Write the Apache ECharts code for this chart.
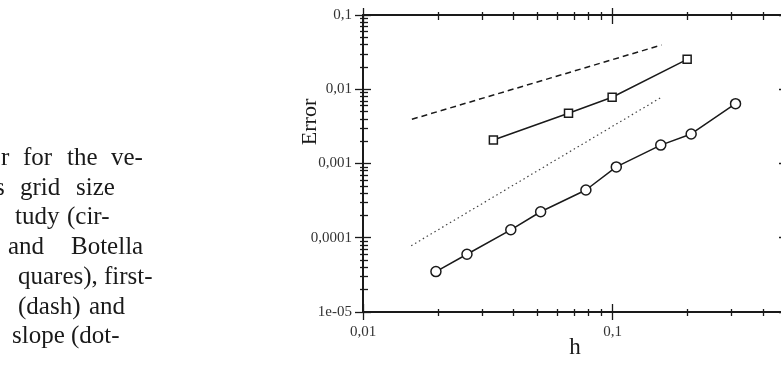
<!DOCTYPE html>
<html>
<head>
<meta charset="utf-8">
<script src="https://cdn.jsdelivr.net/npm/echarts@6/dist/echarts.min.js"></script>
<style>
  html, body { margin: 0; padding: 0; background: #fff; }
  #chart { width: 781px; height: 366px; }
</style>
</head>
<body>
<div id="chart"></div>
<script>
// values
const circleH = [0.0196, 0.0261, 0.0391, 0.0515, 0.0782, 0.1035, 0.156, 0.2065, 0.311]
const circleErr = [3.5e-5, 6.0e-5, 1.28e-4, 2.24e-4, 4.4e-4, 9.0e-4, 1.77e-3, 2.5e-3, 6.4e-3]
const squareH = [0.0333, 0.0666, 0.0996, 0.199]
const squareErr = [2.07e-3, 4.74e-3, 7.8e-3, 0.0253]
const firstOrderH = [0.0157, 0.157]
const firstOrderErr = [3.94e-3, 0.0394]
const secondOrderH = [0.0156, 0.157]
const secondOrderErr = [7.8e-5, 7.8e-3]

const xMajorTicks = [0.01, 0.1]
const xTickLabels = ['0,01', '0,1']
const yMajorTicks = [1e-5, 1e-4, 1e-3, 1e-2, 0.1]
const yTickLabels = ['1e-05', '0,0001', '0,001', '0,01', '0,1']
const minorMultiples = [2, 3, 4, 5, 6, 7, 8, 9]

// caption fragment visible on the left (cut off by the crop)
const captionLines = [
  ['r', 'for', 'the', 've-'],
  ['s', 'grid', 'size'],
  ['tudy', '(cir-'],
  ['and', 'Botella'],
  ['quares),', 'first-'],
  ['(dash)', 'and'],
  ['slope', '(dot-'],
]

const X_MIN = 0.01, X_MAX = 0.5, Y_MIN = 1e-5, Y_MAX = 0.1
const INK = '#1a1a1a'
const SERIF = '"Liberation Serif", "DejaVu Serif", serif'

function minorTicks(majors, max) {
  const out = []
  for (const d of majors) {
    for (const m of minorMultiples) {
      const v = +(d * m).toPrecision(6)
      if (v <= max * 1.0001) out.push(v)
    }
  }
  return out
}
const xMinorTicks = minorTicks(xMajorTicks, X_MAX)
const yMinorTicks = minorTicks(yMajorTicks.slice(0, -1), Y_MAX)

function labelFor(ticks, labels) {
  return (v) => {
    const i = ticks.findIndex((t) => Math.abs(Math.log10(t) - Math.log10(v)) < 1e-6)
    return i >= 0 ? labels[i] : ''
  }
}

function tickAxis(kind, position, values, inside, length, extra) {
  const range = kind === 'x' ? { min: X_MIN, max: X_MAX } : { min: Y_MIN, max: Y_MAX }
  return Object.assign({
    type: 'log',
    logBase: 10,
    gridIndex: 0,
    position,
    ...range,
    axisLine: { show: false, onZero: false },
    splitLine: { show: false },
    minorTick: { show: false },
    axisLabel: { show: false },
    axisTick: { show: true, inside, length, customValues: values, lineStyle: { color: INK, width: 1.3 } },
  }, extra || {})
}

const axisLineStyle = { show: true, onZero: false, lineStyle: { color: INK, width: 2 } }
const tickLabelStyle = { fontFamily: SERIF, fontSize: 15, color: '#333' }

const xAxes = [
  tickAxis('x', 'bottom', xMajorTicks, false, 8, {
    axisLine: axisLineStyle,
    axisLabel: {
      show: true, customValues: xMajorTicks, margin: 13, showMinLabel: true, showMaxLabel: true,
      formatter: labelFor(xMajorTicks, xTickLabels), ...tickLabelStyle,
    },
    name: 'h',
    nameLocation: 'middle',
    nameGap: 24,
    nameMoveOverlap: false,
    nameTextStyle: { fontFamily: SERIF, fontSize: 23, color: INK },
  }),
  tickAxis('x', 'bottom', xMajorTicks, true, 8),
  tickAxis('x', 'bottom', xMinorTicks, true, 3),
  tickAxis('x', 'bottom', xMinorTicks, false, 4),
  tickAxis('x', 'top', xMajorTicks, true, 9, { axisLine: axisLineStyle }),
  tickAxis('x', 'top', xMajorTicks, false, 7),
  tickAxis('x', 'top', xMinorTicks, true, 5),
  tickAxis('x', 'top', xMinorTicks, false, 3),
]

const yAxes = [
  tickAxis('y', 'left', yMajorTicks, false, 8, {
    axisLine: axisLineStyle,
    axisLabel: {
      show: true, customValues: yMajorTicks, margin: 11, showMinLabel: true, showMaxLabel: true,
      formatter: labelFor(yMajorTicks, yTickLabels), ...tickLabelStyle,
    },
  }),
  tickAxis('y', 'left', yMajorTicks, true, 8),
  tickAxis('y', 'left', yMinorTicks, true, 5),
  tickAxis('y', 'left', yMinorTicks, false, 3),
  tickAxis('y', 'right', yMajorTicks, true, 8, { axisLine: axisLineStyle }),
  tickAxis('y', 'right', yMinorTicks, true, 4),
]

const zip = (xs, ys) => xs.map((x, i) => [x, ys[i]])

// caption lines are justified between a start and an end x (as in the scan)
const CAPTION_FONT = `25px ${SERIF}`
const captionSpans = [[1, 143], [-5, 115], [15, 110], [8, 143], [18, 153], [18, 125], [12, 118]]
const measureCtx = document.createElement('canvas').getContext('2d')
measureCtx.font = CAPTION_FONT
const captionGraphics = []
captionLines.forEach((words, li) => {
  const [x0, x1] = captionSpans[li]
  const widths = words.map((w) => measureCtx.measureText(w).width)
  const total = widths.reduce((a, b) => a + b, 0)
  const minGap = measureCtx.measureText(' ').width
  const gap = Math.max(minGap, (x1 - x0 - total) / (words.length - 1))
  let x = x0
  words.forEach((w, wi) => {
    captionGraphics.push({
      type: 'text',
      left: Math.round(x),
      top: 146 + li * 29.7,
      style: { text: w, font: CAPTION_FONT, fill: INK },
    })
    x += widths[wi] + gap
  })
})

const chart = echarts.init(document.getElementById('chart'))
chart.setOption({
  animation: false,
  backgroundColor: '#fff',
  grid: { left: 363, top: 15, width: 424, bottom: 54, containLabel: false, outerBoundsMode: 'none' },
  xAxis: xAxes,
  yAxis: yAxes,
  graphic: [
    ...captionGraphics,
    {
      type: 'text',
      x: 310,
      y: 122,
      rotation: Math.PI / 2,
      style: { text: 'Error', font: `22px ${SERIF}`, fill: INK, align: 'center', verticalAlign: 'middle' },
    },
  ],
  series: [
    {
      name: 'this study',
      type: 'line',
      data: zip(circleH, circleErr),
      symbol: 'circle',
      symbolSize: 10,
      itemStyle: { color: '#fff', borderColor: INK, borderWidth: 1.5 },
      lineStyle: { color: INK, width: 1.5 },
      z: 5,
    },
    {
      name: 'Botella',
      type: 'line',
      data: zip(squareH, squareErr),
      symbol: 'rect',
      symbolSize: 8,
      itemStyle: { color: '#fff', borderColor: INK, borderWidth: 1.5 },
      lineStyle: { color: INK, width: 1.5 },
      z: 5,
    },
    {
      name: 'first order',
      type: 'line',
      data: zip(firstOrderH, firstOrderErr),
      showSymbol: false,
      lineStyle: { color: INK, width: 1.5, type: [6, 4] },
    },
    {
      name: 'second order',
      type: 'line',
      data: zip(secondOrderH, secondOrderErr),
      showSymbol: false,
      lineStyle: { color: '#444', width: 1.2, type: [1.5, 3] },
    },
  ],
})
</script>
</body>
</html>
